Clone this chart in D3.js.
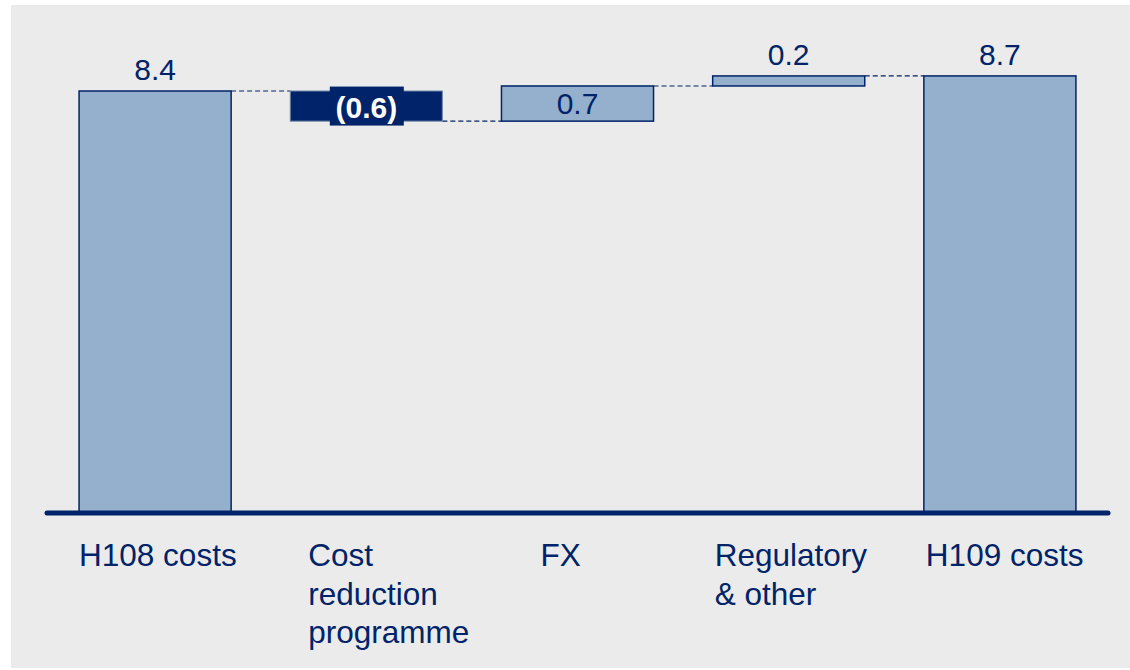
<!DOCTYPE html>
<html>
<head>
<meta charset="utf-8">
<script src="https://cdn.jsdelivr.net/npm/d3@7"></script>
<style>
  body { margin: 0; background: #fff; }
  svg text { font-family: "Liberation Sans", Arial, sans-serif; }
</style>
</head>
<body>
<svg id="chart" width="1130" height="670"></svg>
<script>
// waterfall data, £bn
var categories = ["H108 costs", "Cost reduction programme", "FX", "Regulatory & other", "H109 costs"];
var labelLines = [["H108 costs"], ["Cost", "reduction", "programme"], ["FX"], ["Regulatory", "& other"], ["H109 costs"]];
var changes = [8.4, -0.6, 0.7, 0.2, 8.7];
var isTotal = [true, false, false, false, true];
var valueLabels = ["8.4", "(0.6)", "0.7", "0.2", "8.7"];

var navy = "#002369", fillBlue = "#94b0cc";

var svg = d3.select("#chart");
svg.append("rect").attr("x", 11).attr("y", 5).attr("width", 1119).attr("height", 663).attr("fill", "#ebebeb");

// running start/end for each step
var run = 0;
var steps = categories.map(function(c, i) {
  var s, e;
  if (isTotal[i]) { s = 0; e = changes[i]; run = e; }
  else { s = run; e = run + changes[i]; run = e; }
  return {cat: c, i: i, start: s, end: e, lines: labelLines[i], label: valueLabels[i], total: isTotal[i], neg: changes[i] < 0};
});

var x = d3.scaleBand().domain(categories).range([49.5, 1105.5]).paddingInner(0.28).paddingOuter(0.14);
var y = d3.scaleLinear().domain([0, 8.4]).range([513, 91]);

// connectors
var conn = svg.append("g");
steps.slice(0, -1).forEach(function(d, i) {
  conn.append("line")
    .attr("x1", x(d.cat) + x.bandwidth()).attr("x2", x(steps[i + 1].cat))
    .attr("y1", y(d.end)).attr("y2", y(d.end))
    .attr("stroke", navy).attr("stroke-width", 1.2).attr("stroke-dasharray", "5,3");
});

svg.selectAll("rect.bar")
  .data(steps)
  .enter()
  .append("rect")
  .attr("class", "bar")
  .attr("x", function(d) { return x(d.cat); })
  .attr("width", x.bandwidth())
  .attr("y", function(d) { return y(Math.max(d.start, d.end)); })
  .attr("height", function(d) { return Math.abs(y(d.start) - y(d.end)); })
  .attr("fill", function(d) { return d.neg ? navy : fillBlue; })
  .attr("stroke", function(d) { return d.neg ? "#6f85a8" : navy; })
  .attr("stroke-width", function(d) { return d.neg ? 1 : 1.5; });

// axis baseline
svg.append("line").attr("x1", 47).attr("x2", 1108).attr("y1", 513).attr("y2", 513)
  .attr("stroke", navy).attr("stroke-width", 5).attr("stroke-linecap", "round");

// value labels
steps.forEach(function(d) {
  var cx = x(d.cat) + x.bandwidth() / 2;
  if (d.neg) {
    var mid = (y(d.start) + y(d.end)) / 2;
    svg.append("rect").attr("x", cx - 36.5).attr("y", mid - 19.5).attr("width", 74).attr("height", 39).attr("fill", navy);
    svg.append("text").attr("x", cx).attr("y", mid + 11.5).attr("text-anchor", "middle")
      .attr("font-size", 30).attr("font-weight", "bold").attr("fill", "#fff").text(d.label);
  } else if (!d.total && Math.abs(y(d.start) - y(d.end)) > 30) {
    var m = (y(d.start) + y(d.end)) / 2;
    svg.append("text").attr("x", cx).attr("y", m + 10.5).attr("text-anchor", "middle")
      .attr("font-size", 30).attr("fill", navy).text(d.label);
  } else {
    svg.append("text").attr("x", cx).attr("y", y(Math.max(d.start, d.end)) - 11).attr("text-anchor", "middle")
      .attr("font-size", 30).attr("fill", navy).text(d.label);
  }
});

// category labels
var labelShift = [0, 18, 39, 2, 2];
steps.forEach(function(d) {
  var t = svg.append("text").attr("font-size", 31.5).attr("fill", navy);
  d.lines.forEach(function(l, k) {
    t.append("tspan").attr("x", x(d.cat) + labelShift[d.i]).attr("y", 566 + k * 38.5).text(l);
  });
});
</script>
</body>
</html>
